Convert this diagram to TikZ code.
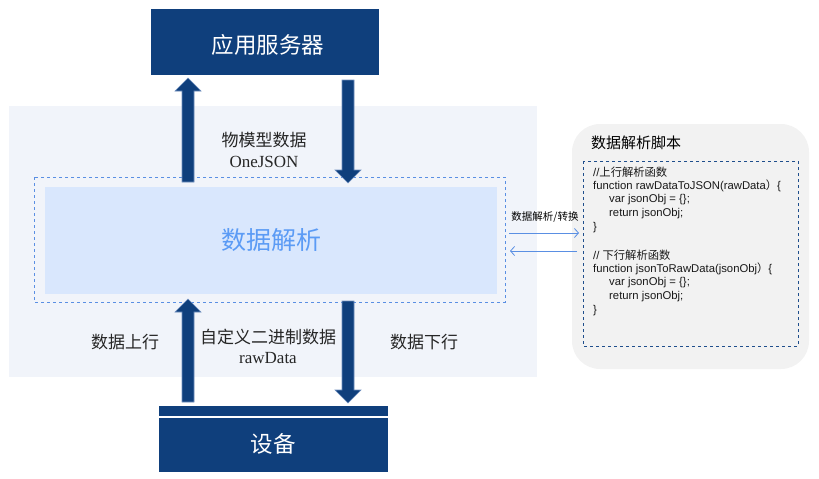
\documentclass[tikz,border=0pt]{standalone}
\usepackage{fontspec}
\setmainfont{Liberation Serif}
\newfontfamily\cjk{Noto Sans CJK SC}
\newfontfamily\code{Liberation Sans}
\usetikzlibrary{arrows.meta}
\definecolor{navy}{HTML}{0F3F7C}
\definecolor{navyedge}{HTML}{6F8FBF}
\definecolor{bgpanel}{HTML}{F1F4FA}
\definecolor{innerblue}{HTML}{D9E7FD}
\definecolor{dashblue}{HTML}{5A8FE3}
\definecolor{textblue}{HTML}{5B9BF5}
\definecolor{graypanel}{HTML}{F2F2F2}
\definecolor{codedash}{HTML}{1F4E8C}
\tikzset{
  navybox/.style={fill=navy, draw=none, minimum width=228pt, minimum height=66pt, inner sep=0pt, text=white, font=\cjk\fontsize{22.5}{26}\selectfont},
  lbl/.style={inner sep=0pt, font=\cjk\fontsize{17}{20}\selectfont, text=black!85},
  latinlbl/.style={inner sep=0pt, font=\fontsize{17}{20}\selectfont, text=black!85},
  codeline/.style={anchor=west, inner sep=0pt, font=\code\fontsize{11.3}{13}\selectfont, text=black!90},
  thinarrow/.style={draw=dashblue, line width=0.8pt, -{Straight Barb[length=4pt,width=9pt]}},
}
\newcommand{\blockup}[3]{% x, ybottom, ytip
  \fill[navy, draw=navyedge, line width=0.6pt]
    (#1-6,#2) -- (#1-6,#3+13) -- (#1-13,#3+13) -- (#1,#3) -- (#1+13,#3+13) -- (#1+6,#3+13) -- (#1+6,#2) -- cycle;}
\newcommand{\blockdown}[3]{% x, ytop, ytip
  \fill[navy, draw=navyedge, line width=0.6pt]
    (#1-6,#2) -- (#1-6,#3-13) -- (#1-13,#3-13) -- (#1,#3) -- (#1+13,#3-13) -- (#1+6,#3-13) -- (#1+6,#2) -- cycle;}
\begin{document}
\begin{tikzpicture}[x=1pt,y=-1pt]
\useasboundingbox (0,0) rectangle (819,479);
% background panel
\fill[bgpanel] (9,106) rectangle (537,377);
% dashed group and inner box
\draw[dashblue, dashed, line width=0.8pt] (34,177) rectangle (505,302);
\node[fill=innerblue, minimum width=452pt, minimum height=107pt, inner sep=0pt, text=textblue, font=\cjk\fontsize{25}{28}\selectfont] (parse) at (271,240.5) {数据解析};
% top and bottom boxes
\node[navybox] (server) at (265,42) {};
\node[text=white, inner sep=0pt, font=\cjk\fontsize{22.5}{26}\selectfont] (srvlabel) at (268,45) {应用服务器};
\node[navybox, minimum width=229pt] (device) at (273.5,439) {};
\draw[white, line width=1.5pt] (159,417) -- (388,417);
\node[text=white, inner sep=0pt, font=\cjk\fontsize{22.5}{26}\selectfont] (devlabel) at (273,444) {设备};
% block arrows
\blockup{188}{182}{78}
\blockdown{348}{80}{183}
\blockup{188}{402}{299}
\blockdown{348}{301}{403}
% labels
\node[lbl] (l1) at (264,140) {物模型数据};
\node[latinlbl] (l2) at (264,162) {OneJSON};
\node[lbl] (l3) at (268,337) {自定义二进制数据};
\node[latinlbl] (l4) at (268,358) {rawData};
\node[lbl] (up) at (125,342) {数据上行};
\node[lbl] (down) at (424,342) {数据下行};
% right panel
\fill[graypanel] (572,124) [rounded corners=28pt] rectangle (809,369);
\node[anchor=west, inner sep=0pt, font=\cjk\fontsize{15}{18}\selectfont] (title) at (591,143) {数据解析脚本};
\draw[codedash, dashed, line width=0.8pt] (583,161) rectangle (798,346);
\node (script) at (690.5,253.5) [minimum width=215pt, minimum height=185pt, inner sep=0pt] {};
\node[codeline] (c1) at (593,172) {//{\cjk 上行解析函数}};
\node[codeline] (c2) at (593,186) {function rawDataToJSON(rawData{\cjk ）}\{};
\node[codeline] (c3) at (609,200) {var jsonObj = \{\};};
\node[codeline] (c4) at (609,214) {return jsonObj;};
\node[codeline] (c5) at (593,228) {\}};
\node[codeline] (c6) at (593,255) {// {\cjk 下行解析函数}};
\node[codeline] (c7) at (593,268.5) {function jsonToRawData(jsonObj{\cjk ）}\{};
\node[codeline] (c8) at (609,283) {var jsonObj = \{\};};
\node[codeline] (c9) at (609,297) {return jsonObj;};
\node[codeline] (c10) at (593,311) {\}};
% middle arrows
\coordinate (a1) at (509,233);
\coordinate (a2) at (579,233);
\coordinate (b1) at (577,251);
\coordinate (b2) at (510,251);
\draw[thinarrow] (a1) -- (a2);
\draw[thinarrow] (b1) -- (b2);
\node[inner sep=0pt, font=\cjk\fontsize{10.5}{12}\selectfont] (conv) at (545,217) {数据解析/转换};
\end{tikzpicture}
\end{document}
